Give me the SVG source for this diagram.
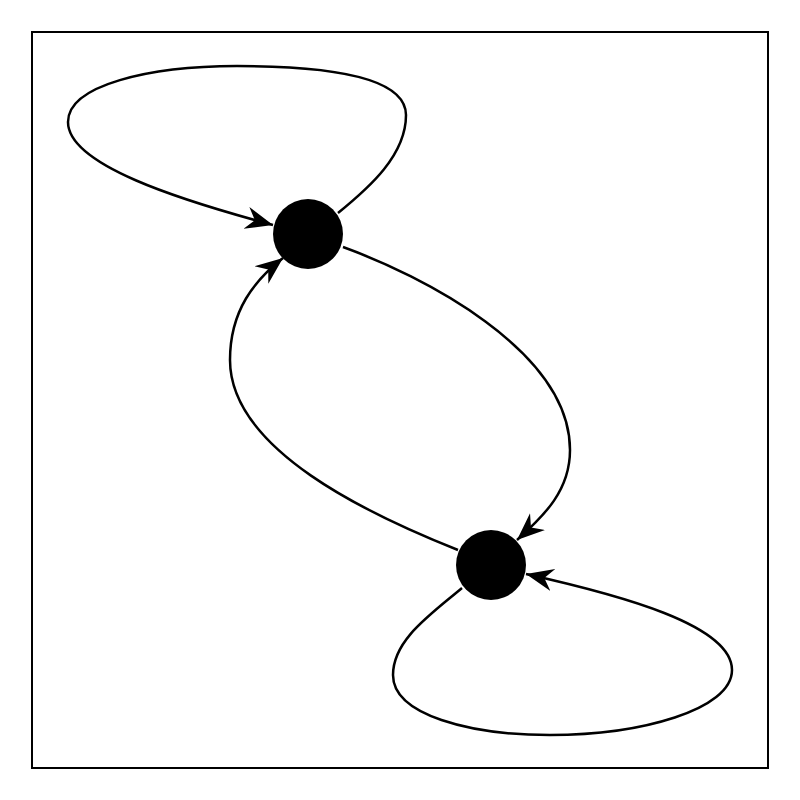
<svg xmlns="http://www.w3.org/2000/svg" width="800" height="800" viewBox="0 0 800 800">
<defs>
<style>
.edge{fill:none;stroke:#000;stroke-width:2.5}
.node{fill:#000}
</style>
<marker id="arr" markerUnits="userSpaceOnUse" markerWidth="30" markerHeight="30" viewBox="-22 -11 24 22" refX="0" refY="0" orient="auto">
<path d="M0,0 L-22,-9 L-15,0 L-22,9 Z" fill="#000"/>
</marker>
</defs>
<rect x="32" y="32" width="736" height="736" fill="#fff" stroke="#000" stroke-width="2"/>
<g id="connectors">
<path class="edge" marker-end="url(#arr)" d="M338,213 C370,187 406,155 406,115 C406,75 320,66 237,66 C150,66 68,85 68,122 C68,165 180,200 273,225"/>
<path class="edge" marker-end="url(#arr)" d="M343,247 C420,275 570,350 570,450 C570,490 545,515 517,540"/>
<path class="edge" marker-end="url(#arr)" d="M458,550 C370,515 230,450 230,360 C230,310 255,280 283,258"/>
<path class="edge" marker-end="url(#arr)" d="M462,588 C430,615 393,640 393,675 C393,715 470,735 550,735 C640,735 732,710 732,670 C732,625 620,595 526,574"/>
</g>
<g id="node1"><circle class="node" cx="308" cy="234" r="35"/></g>
<g id="node2"><circle class="node" cx="491" cy="565" r="35"/></g>
</svg>
